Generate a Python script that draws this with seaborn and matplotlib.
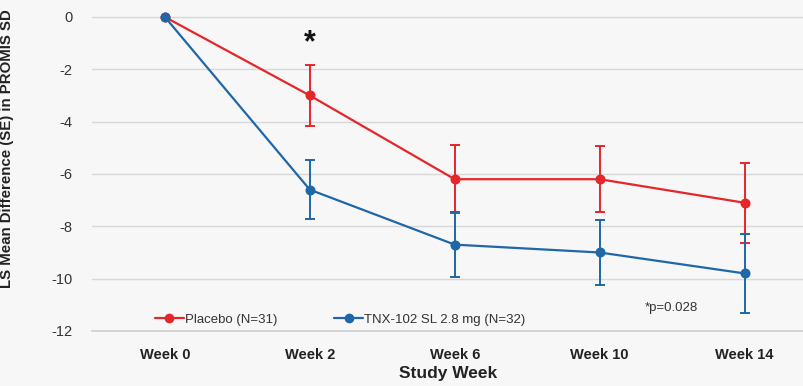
import numpy as np
import pandas as pd
import matplotlib
matplotlib.use("Agg")
import matplotlib.pyplot as plt
from matplotlib.lines import Line2D
import seaborn as sns

# Study weeks and least-squares mean change (with standard errors)
weeks = ["Week 0", "Week 2", "Week 6", "Week 10", "Week 14"]
placebo_mean = [0.0, -3.0, -6.2, -6.2, -7.1]
placebo_se = [0.0, 1.15, 1.3, 1.27, 1.53]
tnx_mean = [0.0, -6.6, -8.7, -9.0, -9.8]
tnx_se = [0.0, 1.13, 1.25, 1.25, 1.5]
group_names = ["Placebo (N=31)", "TNX-102 SL 2.8 mg (N=32)"]
y_ticks = [0, -2, -4, -6, -8, -10, -12]

RED = "#e5262b"
BLUE = "#1f67a6"
BG = "#f7f7f7"

df = pd.DataFrame({
    "week": weeks * 2,
    "group": [group_names[0]] * len(weeks) + [group_names[1]] * len(weeks),
    "mean": placebo_mean + tnx_mean,
})

sns.set_theme(style="white")
plt.rcParams["font.family"] = ["Liberation Sans", "DejaVu Sans"]

fig = plt.figure(figsize=(8.04, 3.86), dpi=100, facecolor=BG)
ax = fig.add_axes([0.1144, 0.1425, 0.8856, 0.8508])
ax.set_facecolor(BG)

# Horizontal gridlines
for t in y_ticks:
    ax.axhline(t, color="#d8d8d8", lw=1.0, zorder=0)

x = np.arange(len(weeks))
series = [(placebo_mean, placebo_se, RED), (tnx_mean, tnx_se, BLUE)]
for mean, se, col in series:
    ax.errorbar(x[1:], mean[1:], yerr=se[1:], fmt="none", ecolor=col,
                elinewidth=1.4, capsize=3.5, capthick=1.4, zorder=2)

sns.pointplot(data=df, x="week", y="mean", hue="group", order=weeks,
              hue_order=group_names, palette=[RED, BLUE], markers="o",
              errorbar=None, dodge=False, linewidth=1.6, markersize=6,
              ax=ax, zorder=3)

ax.set_xlim(-0.503, 4.41)
ax.set_ylim(-12, 0.55)
ax.set_yticks(y_ticks)
ax.set_yticklabels([str(t) for t in y_ticks], fontsize=10.5, color="#333333")
ax.tick_params(axis="y", length=0, pad=14)

ax.set_xticks(x)
ax.set_xticklabels(weeks, fontsize=10.5, fontweight="bold", color="#222222")
ax.tick_params(axis="x", length=0, pad=12)
ax.set_xticks(np.arange(-0.5, 4.0, 1.0), minor=True)
ax.tick_params(axis="x", which="minor", length=4, width=1, color="#cfcfcf",
               direction="out")

for s in ["top", "right", "left"]:
    ax.spines[s].set_visible(False)
ax.spines["bottom"].set_color("#cfcfcf")
ax.spines["bottom"].set_linewidth(1.2)

ax.set_xlabel("Study Week", fontsize=12.5, fontweight="bold", color="#222222",
              labelpad=3)
ax.set_ylabel("LS Mean Difference (SE) in PROMIS SD", fontsize=10.8,
              fontweight="bold", color="#222222")
ax.yaxis.set_label_coords(-0.11, 0.555)

# Legend
ax.get_legend().remove()
handles = [Line2D([0], [0], color=c, lw=1.6, marker="o", markersize=6)
           for c in (RED, BLUE)]
ax.legend(handles, group_names, loc="center left", bbox_to_anchor=(0.088, 0.035),
          ncol=2, frameon=False, fontsize=9.5, handlelength=2.2,
          handletextpad=0.1, columnspacing=4.3, borderpad=0, borderaxespad=0,
          labelcolor="#333333")

# Significance marker and p-value note
ax.text(1, -1.0, "*", ha="center", va="center", fontsize=22,
        fontweight="bold", color="#111111")
fig.text(645 / 804, 1 - 308 / 386, "*p=0.028", ha="left", va="center",
         fontsize=9.5, color="#333333")

fig.savefig("out.png", dpi=100, facecolor=BG)
